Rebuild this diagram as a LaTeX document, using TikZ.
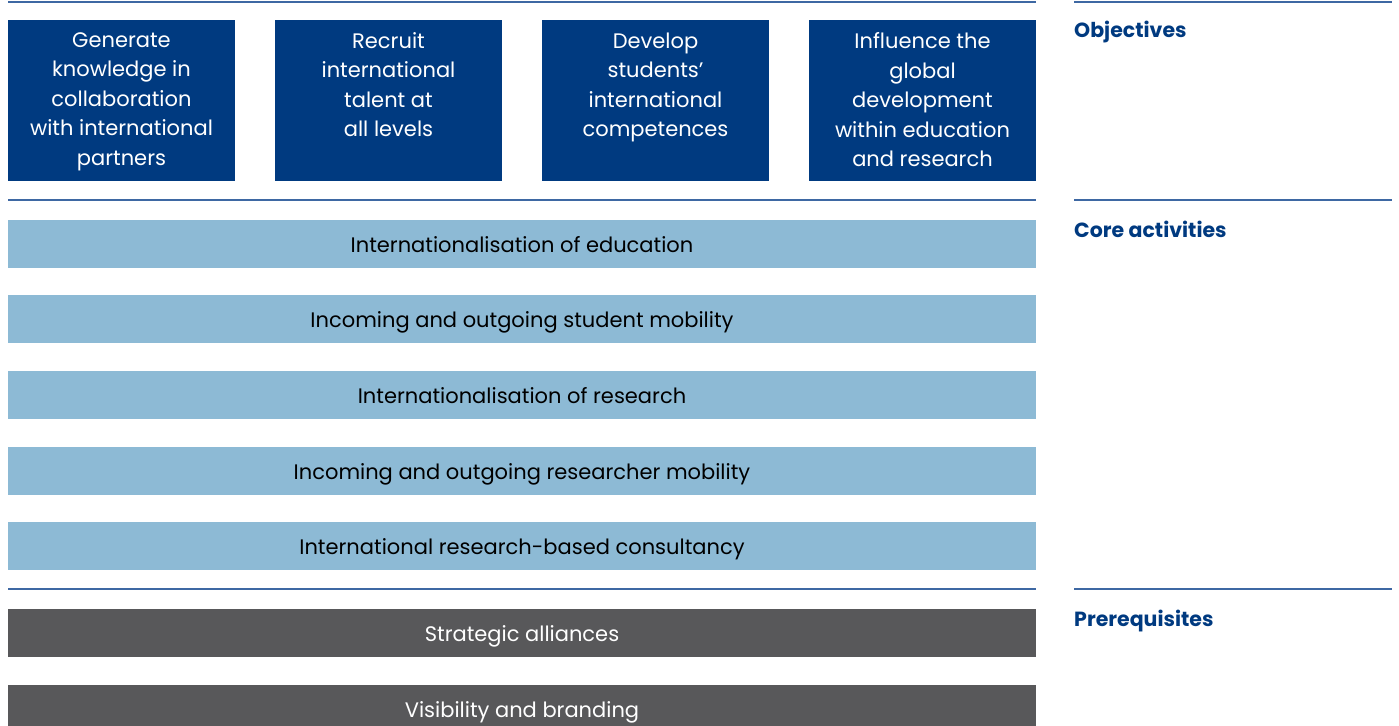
\documentclass[tikz,border=0pt]{standalone}
\usepackage{fontspec}
\setmainfont{Poppins}
\definecolor{navy}{HTML}{003A80}
\definecolor{lblue}{HTML}{8DBAD5}
\definecolor{dgray}{HTML}{58585A}
\definecolor{rule}{HTML}{3E68A3}
\begin{document}
\begin{tikzpicture}[x=1pt,y=-1pt,
  objbox/.style={fill=navy,draw=none,minimum width=227pt,minimum height=161pt,inner sep=0pt},
  objtxt/.style={anchor=north,text=white,align=center,font=\fontsize{21}{29.5}\selectfont,inner sep=0pt},
  actbar/.style={fill=lblue,draw=none,minimum width=1028pt,minimum height=48pt,text=black,font=\fontsize{21}{24}\selectfont,inner sep=0pt,text height=17.5pt,text depth=0pt},
  prebar/.style={fill=dgray,draw=none,minimum width=1028pt,minimum height=48pt,text=white,font=\fontsize{21}{24}\selectfont,inner sep=0pt,text height=17.5pt,text depth=0pt},
  sect/.style={anchor=base west,text=navy,font=\fontsize{20.5}{22}\selectfont\bfseries,inner sep=0pt},
  hrule/.style={draw=rule,line width=1.2pt}]
\useasboundingbox (0,0) rectangle (1399,725);
% rules
\coordinate (l1a) at (8,2); \coordinate (l1b) at (1036,2);
\coordinate (r1a) at (1074,2); \coordinate (r1b) at (1392,2);
\coordinate (l2a) at (8,200); \coordinate (l2b) at (1036,200);
\coordinate (r2a) at (1074,200); \coordinate (r2b) at (1392,200);
\coordinate (l3a) at (8,589); \coordinate (l3b) at (1036,589);
\coordinate (r3a) at (1074,589); \coordinate (r3b) at (1392,589);
\draw[hrule] (l1a) -- (l1b); \draw[hrule] (r1a) -- (r1b);
\draw[hrule] (l2a) -- (l2b); \draw[hrule] (r2a) -- (r2b);
\draw[hrule] (l3a) -- (l3b); \draw[hrule] (r3a) -- (r3b);
% objectives
\node[objbox] (o1) at (121.5,100.5) {};
\node[objbox] (o2) at (388.5,100.5) {};
\node[objbox] (o3) at (655.5,100.5) {};
\node[objbox] (o4) at (922.5,100.5) {};
\node[objtxt] (o1t) at ([yshift=-12.5pt]o1.north) {Generate\\knowledge in\\collaboration\\with international\\partners};
\node[objtxt] (o2t) at ([yshift=-12.5pt]o2.north) {Recruit\\international\\talent at\\all levels};
\node[objtxt] (o3t) at ([yshift=-12.5pt]o3.north) {Develop\\students'\\international\\competences};
\node[objtxt] (o4t) at ([yshift=-12.5pt]o4.north) {Influence the\\global\\development\\within education\\and research};
% core activities
\node[actbar] (a1) at (522,244) {Internationalisation of education};
\node[actbar] (a2) at (522,319) {Incoming and outgoing student mobility};
\node[actbar] (a3) at (522,395) {Internationalisation of research};
\node[actbar] (a4) at (522,471) {Incoming and outgoing researcher mobility};
\node[actbar] (a5) at (522,546) {International research-based consultancy};
% prerequisites
\node[prebar] (p1) at (522,633) {Strategic alliances};
\node[prebar] (p2) at (522,709) {Visibility and branding};
% section labels
\node[sect] (s1) at (1074,37.5) {Objectives};
\node[sect] (s2) at (1074,237) {Core activities};
\node[sect] (s3) at (1074,626) {Prerequisites};
\end{tikzpicture}
\end{document}
